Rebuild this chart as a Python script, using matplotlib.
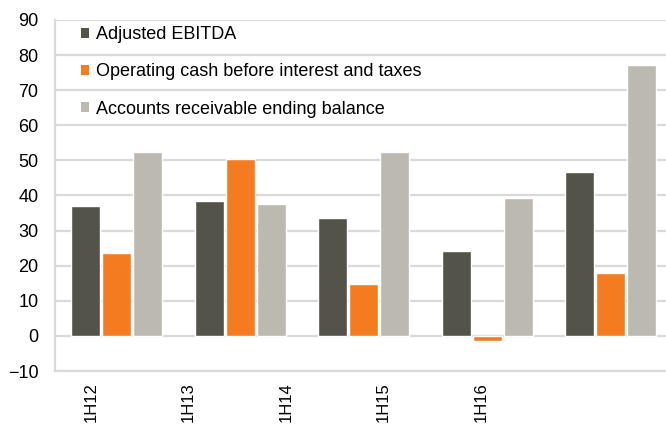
import numpy as np
import matplotlib
matplotlib.use("Agg")
import matplotlib.pyplot as plt
from matplotlib.patches import Patch

# 数据
periods = ["1H12", "1H13", "1H14", "1H15", "1H16"]
ebitda = [37.0, 38.4, 33.6, 24.3, 46.6]
op_cash = [23.7, 50.3, 14.7, -1.5, 17.8]
receivables = [52.3, 37.6, 52.3, 39.3, 77.2]
series_names = ["Adjusted EBITDA",
                "Operating cash before interest and taxes",
                "Accounts receivable ending balance"]
colors = ["#53534a", "#f47b20", "#bcb9b0"]

plt.rcParams['font.family'] = ['Liberation Sans', 'DejaVu Sans']

fig = plt.figure(figsize=(6.66, 4.26), dpi=100)
ax = fig.add_axes([55 / 666, 1 - 371 / 426, 617.5 / 666, 351 / 426])

x = np.arange(len(periods))
width = 0.235
step = 0.251
for i, vals in enumerate([ebitda, op_cash, receivables]):
    ax.bar(x + (i - 1) * step, vals, width, color=colors[i],
           edgecolor="white", linewidth=1.0, zorder=3)

ax.set_xlim(-0.5, len(periods) - 0.5)
ax.set_ylim(-10, 90)
ax.set_yticks(np.arange(-10, 91, 10))
ax.yaxis.grid(True, color="#d9d9d9", linewidth=1.6, zorder=0)
ax.set_axisbelow(True)

# 标签位置与原图一致(偏左)
label_pos = -0.21 + x * 0.79
ax.set_xticks(label_pos)
ax.set_xticklabels(periods, rotation=90, fontsize=12)
ax.tick_params(axis="x", length=0, pad=8)
ax.tick_params(axis="y", length=0, pad=12, labelsize=13)

for s in ["top", "right"]:
    ax.spines[s].set_visible(False)
for s in ["left", "bottom"]:
    ax.spines[s].set_color("#d9d9d9")
    ax.spines[s].set_linewidth(1.6)

handles = [Patch(facecolor=c, edgecolor="none") for c in colors]
ax.legend(handles, series_names, loc="upper left",
          bbox_to_anchor=(74 / 666, 1 - 19 / 426), bbox_transform=fig.transFigure,
          frameon=False, fontsize=13, handlelength=0.45, handleheight=0.45,
          handletextpad=0.35, labelspacing=1.12, borderaxespad=0)

fig.savefig("out.png", dpi=100)
